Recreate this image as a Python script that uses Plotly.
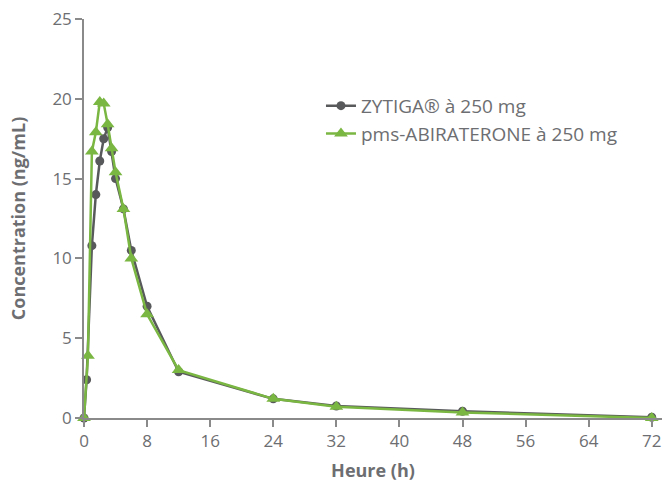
import plotly.graph_objects as go

time_zytiga = [0, 0.33, 1, 1.5, 2, 2.5, 3, 3.5, 4, 5, 6, 8, 12, 24, 32, 48, 72]
conc_zytiga = [0, 2.4, 10.8, 14.0, 16.1, 17.5, 18.2, 16.7, 15.0, 13.1, 10.5, 7.0, 2.9, 1.2, 0.75, 0.42, 0.05]

time_pms = [0, 0.5, 1, 1.5, 2, 2.5, 3, 3.5, 4, 5, 6, 8, 12, 24, 32, 48, 72]
conc_pms = [0, 3.9, 16.7, 17.9, 19.8, 19.7, 18.4, 16.9, 15.4, 13.1, 10.0, 6.5, 3.0, 1.2, 0.7, 0.35, 0.0]

x_ticks = [0, 8, 16, 24, 32, 40, 48, 56, 64, 72]
y_ticks = [0, 5, 10, 15, 20, 25]

name_zytiga = "ZYTIGA® à 250 mg"
name_pms = "pms-ABIRATERONE à 250 mg"

GRAY = "#58595b"
GREEN = "#7ab642"
TEXT = "#6d6e71"
FONT = "Open Sans, sans-serif"

fig = go.Figure()
fig.add_trace(go.Scatter(
    x=time_zytiga, y=conc_zytiga, mode="lines+markers", name=name_zytiga,
    line=dict(color=GRAY, width=2.5),
    marker=dict(symbol="circle", size=9, color=GRAY),
))
fig.add_trace(go.Scatter(
    x=time_pms, y=conc_pms, mode="lines+markers", name=name_pms,
    line=dict(color=GREEN, width=2.5),
    marker=dict(symbol="triangle-up", size=12, color=GREEN),
))

fig.update_layout(
    width=662, height=482,
    margin=dict(l=84, r=0, t=19, b=64, autoexpand=False),
    paper_bgcolor="white", plot_bgcolor="white",
    font=dict(family=FONT, color=TEXT, size=16),
    showlegend=True,
    legend=dict(x=0.41, y=0.83, xanchor="left", yanchor="top",
                bgcolor="rgba(0,0,0,0)", font=dict(size=19, color=TEXT),
                itemwidth=30, tracegroupgap=0),
    xaxis=dict(
        range=[0, 73.3], tickmode="array", tickvals=x_ticks, automargin=False,
        ticklabeloverflow="allow",
        showgrid=False, zeroline=False, showline=True, linecolor="#8a8a8a", linewidth=1.5,
        ticks="outside", ticklen=7, tickcolor="#8a8a8a", tickwidth=1.5,
        tickfont=dict(size=17, color=TEXT),
        title=dict(text="<b>Heure (h)</b>", font=dict(size=18, color=TEXT), standoff=13),
    ),
    yaxis=dict(
        range=[0, 25], tickmode="array", tickvals=y_ticks, automargin=False,
        ticklabeloverflow="allow",
        showgrid=False, zeroline=False, showline=True, linecolor="#8a8a8a", linewidth=1.5,
        ticks="outside", ticklen=7, tickcolor="#8a8a8a", tickwidth=1.5,
        tickfont=dict(size=17, color=TEXT),
        title=dict(text="<b>Concentration (ng/mL)</b>", font=dict(size=18, color=TEXT), standoff=22),
    ),
)
fig.update_traces(cliponaxis=False)

fig.write_html(
    "out.html",
    config={"displayModeBar": False},
    post_script="document.body.style.margin='0';document.body.style.overflow='hidden';",
)
